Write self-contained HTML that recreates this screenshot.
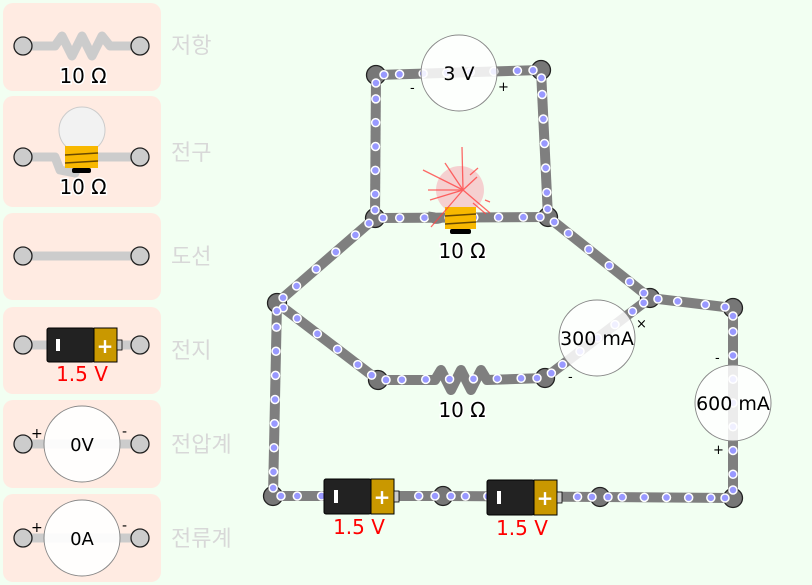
<!DOCTYPE html>
<html><head><meta charset="utf-8">
<style>
body{margin:0;width:812px;height:585px;background:#f2fff2;overflow:hidden;font-family:"Liberation Sans","Noto Sans CJK KR","DejaVu Sans",sans-serif}
svg{position:absolute;left:0;top:0}
text{font-family:"DejaVu Sans","Liberation Sans","Noto Sans CJK KR",sans-serif}
</style></head><body>
<svg width="812" height="585" viewBox="0 0 812 585" id="s">
<g fill="#ffebe2">
<rect x="3" y="3" width="158" height="88" rx="10"/>
<rect x="3" y="96" width="158" height="111" rx="10"/>
<rect x="3" y="213" width="158" height="87" rx="10"/>
<rect x="3" y="307" width="158" height="87" rx="10"/>
<rect x="3" y="400" width="158" height="88" rx="10"/>
<rect x="3" y="494" width="158" height="88" rx="10"/>
</g>
<g fill="#d8d8d8" font-size="22">
<text x="171" y="53" style="font-family:'Noto Sans CJK KR',sans-serif">저항</text>
<text x="171" y="160" style="font-family:'Noto Sans CJK KR',sans-serif">전구</text>
<text x="171" y="264" style="font-family:'Noto Sans CJK KR',sans-serif">도선</text>
<text x="171" y="358" style="font-family:'Noto Sans CJK KR',sans-serif">전지</text>
<text x="171" y="452" style="font-family:'Noto Sans CJK KR',sans-serif">전압계</text>
<text x="171" y="546" style="font-family:'Noto Sans CJK KR',sans-serif">전류계</text>
</g>
<g stroke="#ccc" stroke-width="9" fill="none" stroke-linejoin="round">
<polyline points="23,46 55,46 62,36 72,56 82,36 92,56 102,36 110,46 140,46"/>
<polyline points="23,157 55,157 60,170 75,173 80,157 140,157"/>
<line x1="23" y1="256" x2="140" y2="256"/>
<line x1="23" y1="345" x2="140" y2="345"/>
<line x1="23" y1="444" x2="140" y2="444"/>
<line x1="23" y1="538" x2="140" y2="538"/>
</g>
<g fill="#ccc" stroke="#222" stroke-width="1.3">
<circle cx="23" cy="46" r="9"/><circle cx="140" cy="46" r="9"/>
<circle cx="23" cy="157" r="9"/><circle cx="140" cy="157" r="9"/>
<circle cx="23" cy="256" r="9"/><circle cx="140" cy="256" r="9"/>
<circle cx="23" cy="345" r="9"/><circle cx="140" cy="345" r="9"/>
<circle cx="23" cy="444" r="9"/><circle cx="140" cy="444" r="9"/>
<circle cx="23" cy="538" r="9"/><circle cx="140" cy="538" r="9"/>
</g>
<g font-size="20" fill="#000" stroke="#fff" stroke-width="3" paint-order="stroke" text-anchor="middle">
<text x="83" y="83">10 Ω</text>
<text x="83" y="194">10 Ω</text>
</g>
<circle cx="82" cy="130" r="23" fill="#f2f2f2" stroke="#ccc"/>
<rect x="65" y="146" width="33" height="22" fill="#f8b800"/>
<line x1="65" y1="155" x2="98" y2="153" stroke="#6a4a00" stroke-width="1.5"/>
<line x1="65" y1="163" x2="98" y2="161" stroke="#6a4a00" stroke-width="1.5"/>
<rect x="72" y="168" width="19" height="5" rx="2" fill="#000"/>
<rect x="47" y="328" width="47" height="34" rx="2" fill="#222" stroke="#000"/>
<rect x="94" y="328" width="23" height="34" fill="#c99800" stroke="#000"/>
<rect x="117" y="340" width="5" height="10" fill="#ccc" stroke="#000" stroke-width="0.8"/>
<rect x="56" y="339" width="4" height="12" fill="#fff"/>
<text x="105" y="353" font-size="20" fill="#fff" text-anchor="middle" font-weight="bold">+</text>
<text x="82" y="381" font-size="20" fill="#f00" text-anchor="middle">1.5 V</text>
<g fill="#fff" fill-opacity="0.92" stroke="#888">
<circle cx="82" cy="444" r="38"/><circle cx="82" cy="538" r="38"/>
</g>
<g font-size="18" text-anchor="middle"><text x="82" y="451">0V</text><text x="82" y="545">0A</text></g>
<g font-size="14"><text x="31" y="438">+</text><text x="122" y="436">-</text><text x="31" y="532">+</text><text x="122" y="530">-</text></g>

<g id="wires" stroke="#7f7f7f" stroke-width="10" fill="none"></g>
<g id="nodes"></g>
<g id="dots"></g>

<circle cx="460" cy="190" r="24" fill="#f5d0d0"/>
<path d="M444 218 Q430 225 432 212" stroke="#7f7f7f" stroke-width="7" fill="none"/>
<rect x="445" y="207" width="31" height="22" fill="#f8b800"/>
<line x1="445" y1="216" x2="476" y2="214" stroke="#6a4a00" stroke-width="1.5"/>
<line x1="445" y1="224" x2="476" y2="222" stroke="#6a4a00" stroke-width="1.5"/>
<rect x="450" y="229" width="21" height="5" rx="2" fill="#000"/>
<g stroke="#f44" stroke-width="1.3" opacity="0.8">
<line x1="463" y1="190" x2="462" y2="147"/><line x1="463" y1="190" x2="423" y2="170"/>
<line x1="463" y1="190" x2="430" y2="200"/><line x1="463" y1="190" x2="431" y2="227"/>
<line x1="463" y1="190" x2="477" y2="177"/><line x1="463" y1="190" x2="445" y2="163"/>
<line x1="463" y1="190" x2="428" y2="190"/><line x1="463" y1="190" x2="490" y2="213"/>
<line x1="473" y1="203" x2="486" y2="214"/><line x1="485" y1="200" x2="490" y2="202"/>
<line x1="470" y1="175" x2="478" y2="168"/>
</g>
<text x="462" y="258" font-size="20" text-anchor="middle" stroke="#fff" stroke-width="3" paint-order="stroke">10 Ω</text>
<text x="462" y="417" font-size="20" text-anchor="middle" stroke="#fff" stroke-width="3" paint-order="stroke">10 Ω</text>

<g fill="#fff" fill-opacity="0.85" stroke="#888">
<circle cx="459" cy="73" r="38"/>
<circle cx="597" cy="338" r="38"/>
<circle cx="733" cy="403" r="38"/>
</g>
<g font-size="19" text-anchor="middle">
<text x="459" y="80">3 V</text>
<text x="597" y="345">300 mA</text>
<text x="733" y="410">600 mA</text>
</g>
<g font-size="13">
<text x="410" y="92">-</text><text x="498" y="91">+</text>
<text x="636" y="328">×</text><text x="568" y="381">-</text>
<text x="715" y="362">-</text><text x="713" y="454">+</text>
</g>
<g id="bats"></g>
</svg>
<script>
var N={A:[376,75],B:[541,70],C:[375,218],D:[548,217],E:[277,303],F:[650,298],G:[733,308],H:[378,380],I:[545,378],J:[273,496],K:[443,496],L:[600,497],M:[733,498]};
var W=[["A","B"],["A","C"],["B","D"],["C","D"],["C","E"],["D","F"],["F","G"],["G","M"],["E","H"],["H","I"],["I","F"],["E","J"],["J","K"],["K","L"],["L","M"]];
var ns="http://www.w3.org/2000/svg",wg=document.getElementById("wires"),dg=document.getElementById("dots"),ng=document.getElementById("nodes");
function el(t,a,p){var e=document.createElementNS(ns,t);for(var k in a)e.setAttribute(k,a[k]);p.appendChild(e);return e;}
W.forEach(function(w){var a=N[w[0]],b=N[w[1]];
 if(w[0]=="H"&&w[1]=="I"){el("polyline",{points:a+" 435,380 441,370 451,390 461,370 471,390 481,370 487,380 "+b,"stroke-linejoin":"round"},wg);}
 else el("line",{x1:a[0],y1:a[1],x2:b[0],y2:b[1]},wg);
 var dx=b[0]-a[0],dy=b[1]-a[1],L=Math.hypot(dx,dy),n=Math.max(1,Math.round(L/24));
 for(var i=0;i<=n;i++){var t=i/n;if(i==0)t=8/L;if(i==n)t=1-8/L;
  el("circle",{cx:a[0]+dx*t,cy:a[1]+dy*t,r:4,fill:"#9999ff",stroke:"#fff","stroke-width":1.5},dg);}
});
for(var k in N){el("circle",{cx:N[k][0],cy:N[k][1],r:9.5,fill:"#777",stroke:"#222","stroke-width":1.3},ng);}
var bg=document.getElementById("bats");
[[324,479],[487,480]].forEach(function(p){var x=p[0],y=p[1];
 el("rect",{x:x,y:y,width:47,height:35,rx:2,fill:"#222",stroke:"#000"},bg);
 el("rect",{x:x+47,y:y,width:23,height:35,fill:"#c99800",stroke:"#000"},bg);
 el("rect",{x:x+70,y:y+12,width:5,height:11,fill:"#ccc",stroke:"#000","stroke-width":0.8},bg);
 el("rect",{x:x+10,y:y+11,width:4,height:13,fill:"#fff"},bg);
 var t=el("text",{x:x+58,y:y+25,"font-size":20,fill:"#fff","text-anchor":"middle","font-weight":"bold"},bg);t.textContent="+";
 var t2=el("text",{x:x+35,y:y+55,"font-size":20,fill:"#f00","text-anchor":"middle"},bg);t2.textContent="1.5 V";
});
</script>
</body></html>
